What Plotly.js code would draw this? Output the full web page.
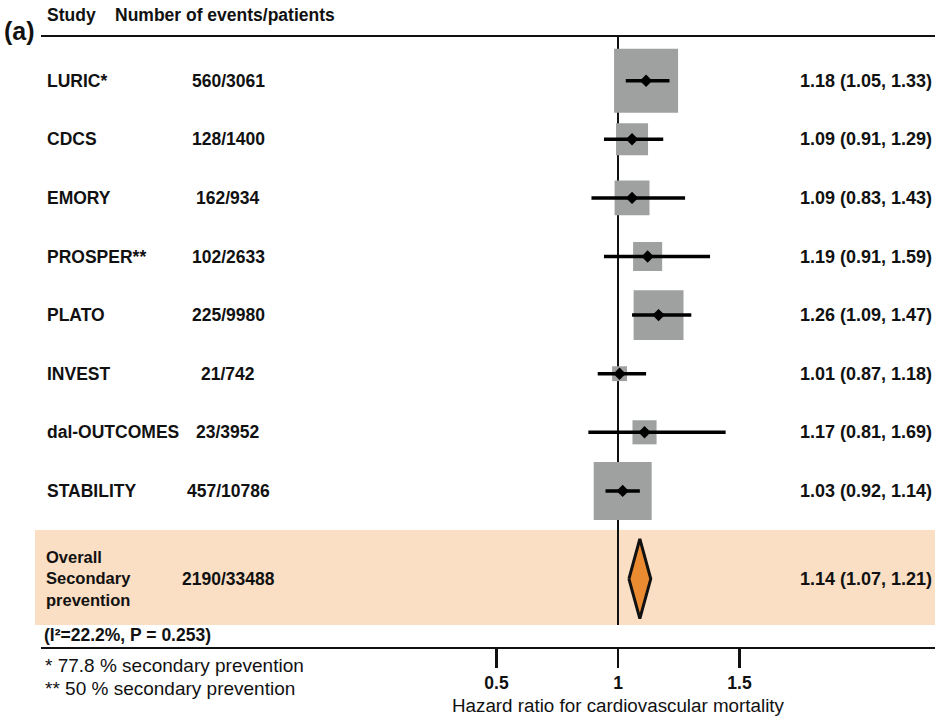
<!DOCTYPE html>
<html>
<head>
<meta charset="utf-8">
<script src="https://cdn.plot.ly/plotly-3.0.1.min.js"></script>
<style>html,body{margin:0;padding:0;background:#fff;}#chart{width:935px;height:716px;}</style>
</head>
<body>
<div id="chart"></div>
<script>
// ---------------- DATA ----------------
const studies = ['LURIC*', 'CDCS', 'EMORY', 'PROSPER**', 'PLATO', 'INVEST', 'dal-OUTCOMES', 'STABILITY'];
const events = ['560/3061', '128/1400', '162/934', '102/2633', '225/9980', '21/742', '23/3952', '457/10786'];
const hr = [1.18, 1.09, 1.09, 1.19, 1.26, 1.01, 1.17, 1.03];
const ciLow = [1.05, 0.91, 0.83, 0.91, 1.09, 0.87, 0.81, 0.92];
const ciHigh = [1.33, 1.29, 1.43, 1.59, 1.47, 1.18, 1.69, 1.14];
const weights = [29.6, 7.4, 8.8, 6.1, 18.0, 1.6, 4.2, 24.3]; // estimated study weights (%)

const overallLabel = ['Overall', 'Secondary', 'prevention'];
const overallEvents = '2190/33488';
const overallHR = [1.14];
const overallLow = [1.07];
const overallHigh = [1.21];

const heterogeneity = '(I\u00B2=22.2%, P = 0.253)';
const footnotes = ['* 77.8 % secondary prevention', '** 50 % secondary prevention'];
const headerStudy = 'Study';
const headerEvents = 'Number of events/patients';
const panelLabel = '(a)';
const tickVals = [0.5, 1, 1.5];
const tickText = ['0.5', '1', '1.5'];
const xTitle = 'Hazard ratio for cardiovascular mortality';

// ---------------- LAYOUT GEOMETRY / STYLE ----------------
const W = 935, H = 716;
const refPx = 618;          // pixel of HR = 1
const pxPerUnit = 156;      // data axis scale
const pxPerUnitAxis = 243;  // drawn axis scale
const row0Px = 80.7, rowPx = 58.6;
const overallRow = 8.5;
const xP = px => px / W;
const yP = px => 1 - px / H;
const vData = px => 1 + (px - refPx) / pxPerUnit;
const vAxis = px => 1 + (px - refPx) / pxPerUnitAxis;
const rowOf = px => (px - row0Px) / rowPx;

const FONT = 'Liberation Sans, Arial, Helvetica, sans-serif';
const bold = {family: FONT, size: 17.5, color: '#111', weight: 'bold'};
const plain = {family: FONT, size: 19, color: '#111'};
const boxColor = '#9fa1a1';
const bandColor = '#fbdfc4';
const diamondColor = '#ea8b32';
const maxBox = 64;
const wMax = Math.max(...weights);
const idx = studies.map((_, i) => i);
const fmt = (a, b, c) => a.toFixed(2) + ' (' + b.toFixed(2) + ', ' + c.toFixed(2) + ')';

const traces = [
  { // weight boxes
    type: 'scatter', mode: 'markers', x: hr, y: idx, hoverinfo: 'skip', showlegend: false,
    marker: {symbol: 'square', color: boxColor, opacity: 1, size: weights.map(w => maxBox * Math.sqrt(w / wMax)), line: {width: 0}}
  },
  { // point estimates with CI
    type: 'scatter', mode: 'markers', x: hr, y: idx, hoverinfo: 'skip', showlegend: false,
    marker: {symbol: 'diamond', color: '#000', size: 9.5, line: {width: 0}},
    error_x: {type: 'data', symmetric: false,
      array: hr.map((v, i) => ciHigh[i] - v), arrayminus: hr.map((v, i) => v - ciLow[i]),
      color: '#000', thickness: 3.5, width: 0}
  },
  { // overall diamond
    type: 'scatter', mode: 'lines', hoverinfo: 'skip', showlegend: false, fill: 'toself',
    x: [overallLow[0], overallHR[0], overallHigh[0], overallHR[0], overallLow[0]],
    y: [overallRow, overallRow - 0.68, overallRow, overallRow + 0.68, overallRow],
    fillcolor: diamondColor, line: {color: '#111', width: 3}
  },
  { // carrier for drawn axis
    type: 'scatter', mode: 'markers', x: tickVals, y: tickVals.map(() => 0), xaxis: 'x2', yaxis: 'y',
    marker: {opacity: 0}, hoverinfo: 'skip', showlegend: false
  }
];

const annotations = [];
const ann = (o) => annotations.push(Object.assign({showarrow: false, yanchor: 'middle'}, o));

ann({xref: 'paper', yref: 'paper', x: xP(2), y: yP(31), xanchor: 'left', text: panelLabel, font: Object.assign({}, bold, {size: 25})});
ann({xref: 'paper', yref: 'paper', x: xP(45), y: yP(15), xanchor: 'left', text: headerStudy, font: bold});
ann({xref: 'paper', yref: 'paper', x: xP(113), y: yP(15), xanchor: 'left', text: headerEvents, font: bold});

studies.forEach((s, i) => {
  ann({xref: 'paper', yref: 'y', x: xP(45), y: i, xanchor: 'left', text: s, font: bold});
  ann({xref: 'paper', yref: 'y', x: xP(228), y: i, xanchor: 'center', text: events[i], font: bold});
  ann({xref: 'paper', yref: 'y', x: xP(934), y: i, xanchor: 'right', text: fmt(hr[i], ciLow[i], ciHigh[i]), font: Object.assign({}, bold, {size: 18})});
});
ann({xref: 'paper', yref: 'y', x: xP(45), y: overallRow, xanchor: 'left', align: 'left', text: overallLabel.join('<br>'),
     font: Object.assign({}, bold, {size: 16.5}), borderpad: 0});
ann({xref: 'paper', yref: 'y', x: xP(228), y: overallRow, xanchor: 'center', text: overallEvents, font: bold});
ann({xref: 'paper', yref: 'y', x: xP(934), y: overallRow, xanchor: 'right', text: fmt(overallHR[0], overallLow[0], overallHigh[0]), font: Object.assign({}, bold, {size: 18})});
ann({xref: 'paper', yref: 'paper', x: xP(42), y: yP(635), xanchor: 'left', text: heterogeneity, font: bold});
footnotes.forEach((f, k) => {
  ann({xref: 'paper', yref: 'paper', x: xP(43), y: yP(665 + k * 23), xanchor: 'left', text: f, font: plain});
});
ann({xref: 'paper', yref: 'paper', x: xP(618), y: yP(705), xanchor: 'center', text: xTitle, font: Object.assign({}, plain, {size: 18.8})});

const shapes = [
  {type: 'rect', xref: 'paper', yref: 'paper', x0: xP(35), x1: 1, y0: yP(530), y1: yP(625), fillcolor: bandColor, line: {width: 0}, layer: 'below'},
  {type: 'line', xref: 'x', yref: 'paper', x0: 1, x1: 1, y0: yP(36), y1: yP(625), line: {color: '#111', width: 2}, layer: 'below'},
  {type: 'line', xref: 'paper', yref: 'paper', x0: xP(41), x1: 1, y0: yP(36), y1: yP(36), line: {color: '#111', width: 2}}
];

const layout = {
  width: W, height: H,
  margin: {l: 0, r: 0, t: 0, b: 0},
  paper_bgcolor: '#fff', plot_bgcolor: 'rgba(0,0,0,0)',
  showlegend: false,
  xaxis: {range: [vData(0), vData(W)], visible: false, fixedrange: true},
  yaxis: {range: [rowOf(H), rowOf(0)], visible: false, fixedrange: true},
  xaxis2: {
    domain: [xP(41), 1], anchor: 'free', position: yP(648),
    range: [vAxis(41), vAxis(W)],
    tickmode: 'array', tickvals: tickVals, ticktext: tickText,
    ticks: 'outside', ticklen: 19, tickwidth: 2.5, tickcolor: '#111',
    showline: true, linewidth: 2, linecolor: '#111',
    showgrid: false, zeroline: false, fixedrange: true,
    tickfont: bold
  },
  shapes: shapes,
  annotations: annotations
};

Plotly.newPlot('chart', traces, layout, {staticPlot: true, displayModeBar: false});
</script>
</body>
</html>
